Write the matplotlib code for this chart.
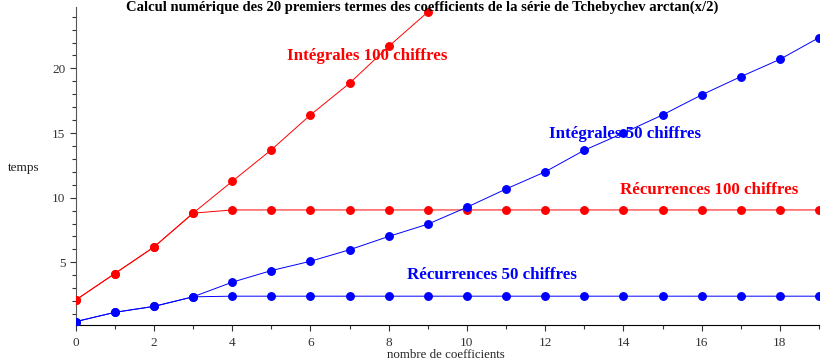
import matplotlib
matplotlib.use("Agg")
import matplotlib.pyplot as plt
from matplotlib.ticker import MultipleLocator

plt.rcParams['font.family'] = ['Liberation Serif', 'DejaVu Serif']

# Data
n_int100 = list(range(0, 10))
t_int100 = [2.08, 4.13, 6.18, 8.8, 11.26, 13.7, 16.4, 18.85, 21.7, 24.36]

n_rec100 = list(range(0, 20))
t_rec100 = [2.08, 4.13, 6.18, 8.8] + [9.05] * 16

n_int50 = list(range(0, 20))
t_int50 = [0.41, 1.13, 1.59, 2.33, 3.46, 4.36, 5.08, 5.97, 7.0, 7.95,
           9.26, 10.67, 12.0, 13.67, 15.0, 16.4, 17.95, 19.36, 20.7, 22.38]

n_rec50 = list(range(0, 20))
t_rec50 = [0.41, 1.13, 1.59, 2.33] + [2.38] * 16

title = "Calcul numérique des 20 premiers termes des coefficients de la série de Tchebychev arctan(x/2)"
xlabel = "nombre de coefficients"
ylabel = "temps"
labels = ["Intégrales 100 chiffres", "Récurrences 100 chiffres",
          "Intégrales 50 chiffres", "Récurrences 50 chiffres"]

fig = plt.figure(figsize=(8.22, 3.62), dpi=100)
ax = fig.add_axes([75.7/822, 37/362, (819-75.7)/822, (325-7)/362])

red = '#ff0000'
blue = '#0000ff'
lw = 0.7
ms = 5.4
ax.plot(n_rec100, t_rec100, color=red, lw=lw, marker='o', ms=ms, zorder=3)
ax.plot(n_int100, t_int100, color=red, lw=lw, marker='o', ms=ms, zorder=3)
ax.plot(n_rec50, t_rec50, color=blue, lw=lw, marker='o', ms=ms, zorder=3)
ax.plot(n_int50, t_int50, color=blue, lw=lw, marker='o', ms=ms, zorder=3)

ax.set_xlim(0, 19)
ax.set_ylim(0.15, 24.75)

for s in ['top', 'right']:
    ax.spines[s].set_visible(False)
ax.spines['left'].set_color('#555555')
ax.spines['bottom'].set_color('black')

ax.xaxis.set_major_locator(MultipleLocator(2))
ax.xaxis.set_minor_locator(MultipleLocator(1))
ax.yaxis.set_major_locator(MultipleLocator(5))
ax.yaxis.set_minor_locator(MultipleLocator(1))
ax.tick_params(which='major', direction='out', length=4, width=0.8, labelsize=9.5,
               colors='#333333')
ax.tick_params(which='minor', direction='out', length=3, width=0.8, colors='#333333')
ax.tick_params(axis='x', pad=5)
ax.set_yticks([5, 10, 15, 20])

fig.text(24/822, 1 - 168/362, ylabel, ha='center', va='center', fontsize=9.5, color='#222222')
fig.text(446/822, 1 - 355/362, xlabel, ha='center', va='center', fontsize=9.3, color='#222222')
fig.text(422/822, 0.999, title, ha='center', va='top', fontsize=10.5,
         fontweight='bold', color='black')

tfs = 12.2
ax.text(7.45, 20.95, labels[0], color=red, fontweight='bold', fontsize=tfs, ha='center', va='center')
ax.text(16.2, 10.6, labels[1], color=red, fontweight='bold', fontsize=tfs, ha='center', va='center')
ax.text(14.05, 14.95, labels[2], color=blue, fontweight='bold', fontsize=tfs, ha='center', va='center')
ax.text(10.65, 4.0, labels[3], color=blue, fontweight='bold', fontsize=tfs, ha='center', va='center')

fig.savefig('out.png', dpi=100)
